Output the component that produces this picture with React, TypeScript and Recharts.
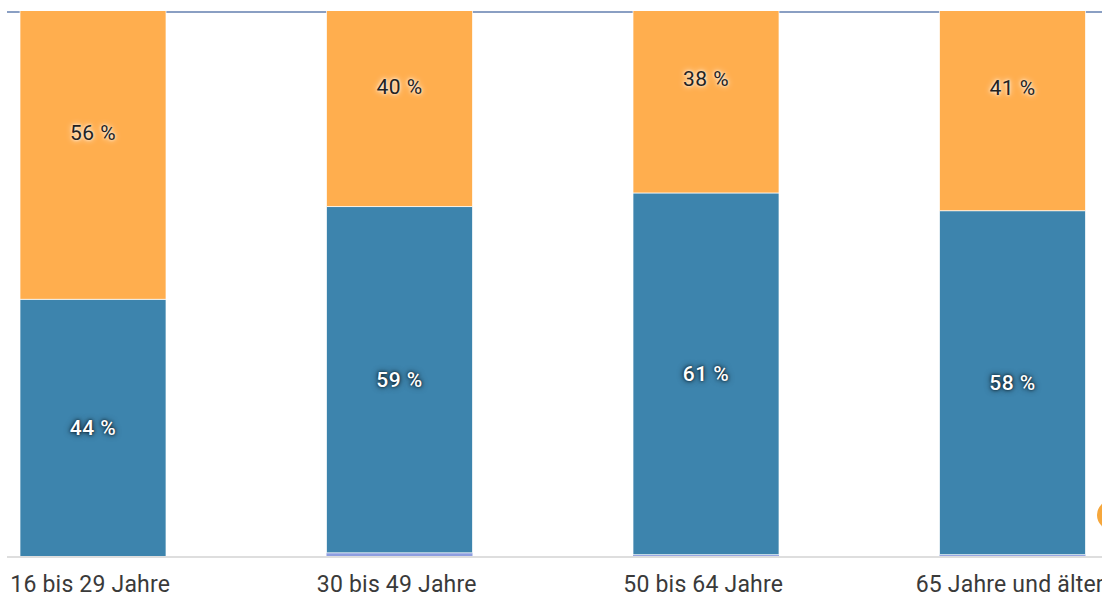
import { Bar, BarChart, CartesianGrid, LabelList, XAxis, YAxis } from 'recharts';

const ageGroups = ['16 bis 29 Jahre', '30 bis 49 Jahre', '50 bis 64 Jahre', '65 Jahre und älter'];
const otherShare = [0, 0.7, 0.4, 0.4];
const blueShare = [43.6, 58.6, 61.2, 58.2];
const orangeShare = [56.4, 40.4, 38.4, 41.4];
const gridTicks = [92.2];

const chartData = ageGroups.map((group, i) => ({
  group,
  other: otherShare[i],
  blue: blueShare[i],
  orange: orangeShare[i],
}));

const FONT = 'Roboto, "Noto Sans", sans-serif';

function makeLabel(fill: string, glow: string, weight: number) {
  return (props: any) => {
    const { x, y, width, height, value } = props;
    return (
      <text
        x={Number(x) + Number(width) / 2}
        y={Number(y) + Number(height) / 2}
        textAnchor="middle"
        dominantBaseline="central"
        fill={fill}
        fontSize={21}
        fontWeight={weight}
        letterSpacing={0.5}
        fontFamily={FONT}
        style={{ textShadow: `0 0 6px ${glow}, 0 0 3px ${glow}` }}
      >
        {`${Math.round(Number(value))} %`}
      </text>
    );
  };
}

export default function App() {
  return (
    <div
      style={{
        position: 'absolute',
        left: 0,
        top: 0,
        width: 1102,
        height: 596,
        overflow: 'hidden',
        background: '#fff',
      }}
    >
      <div style={{ position: 'absolute', left: 0, top: -46 }}>
        <BarChart
          width={1102}
          height={642}
          data={chartData}
          margin={{ top: 12, right: 0, bottom: 0, left: 7 }}
          barSize={146}
        >
          <CartesianGrid vertical={false} stroke="#8a9fc3" strokeWidth={2} />
          <XAxis
            dataKey="group"
            height={39}
            padding={{ left: -67, right: -64 }}
            tickLine={false}
            tickSize={0}
            tickMargin={19}
            axisLine={{ stroke: '#dedede', strokeWidth: 2 }}
            tick={{ fontSize: 23, fill: '#3a3a3a', fontFamily: FONT, letterSpacing: 0.2, dx: -3 }}
            interval={0}
          />
          <YAxis hide domain={[0, 100]} ticks={gridTicks} />
          <Bar dataKey="other" stackId="a" fill="#8e9ee0" isAnimationActive={false} />
          <Bar
            dataKey="blue"
            stackId="a"
            fill="#3d84ad"
            stroke="rgba(255,255,255,0.7)"
            strokeWidth={1}
            isAnimationActive={false}
          >
            <LabelList dataKey="blue" content={makeLabel('#ffffff', 'rgba(0,0,0,0.75)', 500)} />
          </Bar>
          <Bar
            dataKey="orange"
            stackId="a"
            fill="#ffae4e"
            stroke="rgba(255,255,255,0.7)"
            strokeWidth={1}
            isAnimationActive={false}
          >
            <LabelList dataKey="orange" content={makeLabel('#222222', 'rgba(255,255,255,0.95)', 400)} />
          </Bar>
        </BarChart>
      </div>
      <div
        style={{
          position: 'absolute',
          left: 0,
          top: 0,
          width: 1102,
          height: 11,
          background: '#fff',
        }}
      />
      <div
        style={{
          position: 'absolute',
          left: 1097,
          top: 500,
          width: 30,
          height: 30,
          borderRadius: '50%',
          background: '#f6a73c',
        }}
      />
    </div>
  );
}
